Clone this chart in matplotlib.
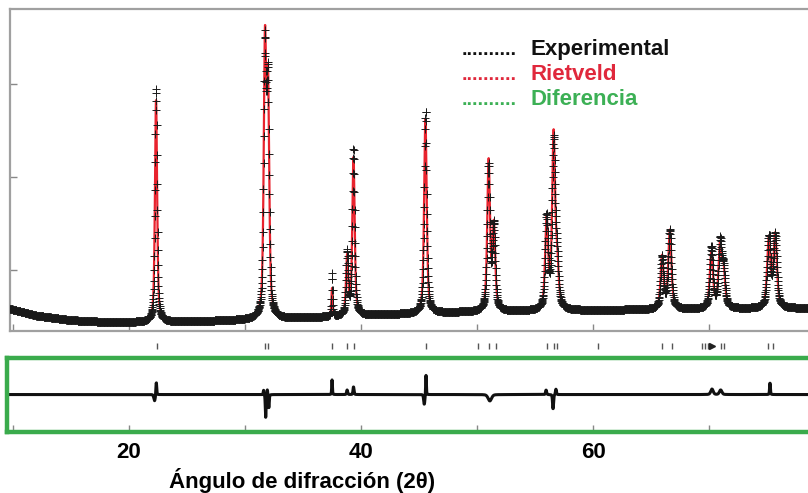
import matplotlib.pyplot as plt
import matplotlib.transforms as mtransforms
import numpy as np

plt.rcParams['font.family'] = ['Liberation Sans', 'DejaVu Sans']

# --- data (2theta in degrees, intensity in counts) ---
# background knots
bg_pos = [9.5, 12.0, 15.0, 18.0, 22.0, 28.0, 35.0, 42.0, 48.0, 55.0, 65.0, 78.6]
bg_cnt = [590, 510, 460, 440, 440, 455, 485, 520, 545, 560, 575, 590]

# reflections of the fitted (Rietveld) pattern
peak_pos = [22.33, 31.72, 31.98, 37.50, 38.80, 39.35, 45.55, 51.00, 51.45,
            56.00, 56.60, 56.90, 65.95, 66.62, 70.20, 70.95, 71.25, 75.15, 75.70]
peak_cnt = [2400, 2850, 2350, 300, 620, 1700, 2100, 1600, 900,
            950, 1850, 450, 560, 840, 600, 650, 380, 740, 780]
peak_fwhm = [0.22, 0.25, 0.25, 0.12, 0.22, 0.24, 0.26, 0.28, 0.28,
             0.30, 0.30, 0.30, 0.30, 0.32, 0.32, 0.32, 0.32, 0.34, 0.34]

# misfit (experimental - Rietveld) features
diff_pos = [22.20, 22.35, 31.60, 31.78, 31.92, 32.05, 37.50, 38.80, 39.35,
            45.45, 45.60, 51.10, 55.95, 56.55, 56.80, 70.25, 71.00, 75.25]
diff_cnt = [-70, 140, 50, -250, 60, -150, 160, 50, 85,
            -110, 215, -70, 50, -160, 60, 60, 50, 130]
diff_fwhm = [0.15, 0.08, 0.08, 0.08, 0.07, 0.08, 0.07, 0.10, 0.10,
             0.12, 0.07, 0.35, 0.10, 0.10, 0.10, 0.25, 0.25, 0.08]

# Bragg reflection markers
bragg_pos = [22.41, 31.72, 31.98, 37.50, 38.79, 39.40, 45.60, 50.09, 51.03, 51.64,
             56.03, 56.64, 56.90, 60.43, 65.95, 66.81, 69.40, 69.66, 69.91,
             71.03, 71.29, 75.09, 75.52]
bragg_strong = [70.26]

x_ticks = [10, 20, 30, 40, 50, 60, 70]
x_labels = ['', '20', '', '40', '', '60', '']
legend_items = ['Experimental', 'Rietveld', 'Diferencia']
legend_colors = ['#111111', '#e0283c', '#3cb055']


def pseudo_voigt(x, x0, h, w, eta=0.6):
    d = (x - x0) / w
    return h * (eta / (1 + 4 * d ** 2) + (1 - eta) * np.exp(-4 * np.log(2) * d ** 2))


tt = np.arange(9.5, 78.6, 0.02)
calc = np.interp(tt, bg_pos, bg_cnt)
for p, h, w in zip(peak_pos, peak_cnt, peak_fwhm):
    calc = calc + pseudo_voigt(tt, p, h, w)
diff = np.zeros_like(tt)
for p, h, w in zip(diff_pos, diff_cnt, diff_fwhm):
    diff = diff + pseudo_voigt(tt, p, h, w, eta=0.3)
obs = calc + diff

W, H = 808, 493
fig = plt.figure(figsize=(W / 100, H / 100), dpi=100)

# main panel
ax = fig.add_axes([10 / W, 162 / H, 800 / W, 322 / H])
ax.plot(tt, calc, color='#e8232e', lw=1.6, zorder=2)
ax.plot(tt, obs, ls='none', marker='+', ms=5.5, mew=0.7, color='#1a1a1a', zorder=3)
ax.set_xlim(9.74, 78.7)
ax.set_ylim(344, 3806)
ax.set_xticks(x_ticks)
ax.set_xticklabels([])
ax.set_yticks([1000, 2000, 3000])
ax.set_yticklabels([])
ax.tick_params(direction='in', length=5, width=1, color='#888888')
for s in ['top', 'left', 'bottom']:
    ax.spines[s].set_color('#a0a0a0')
    ax.spines[s].set_linewidth(1.6)
ax.spines['right'].set_visible(False)

# Bragg markers between the panels
trans = mtransforms.blended_transform_factory(ax.transData, ax.transAxes)
ax.plot(bragg_pos, [-0.047] * len(bragg_pos), ls='none', marker='|', ms=5, mew=1.0,
        color='#555555', transform=trans, clip_on=False)
ax.plot(bragg_strong, [-0.047] * len(bragg_strong), ls='none', marker='>', ms=4,
        color='#222222', transform=trans, clip_on=False)

# difference panel
ax2 = fig.add_axes([7 / W, 61 / H, 803 / W, 74 / H])
ax2.plot(tt, diff, color='#111111', lw=2.2)
ax2.set_xlim(9.48, 78.7)
ax2.set_ylim(-410, 400)
ax2.set_yticks([])
ax2.set_xticks(x_ticks)
ax2.set_xticklabels(x_labels, fontsize=16, fontweight='bold')
ax2.tick_params(axis='x', direction='in', length=5, width=1, color='#888888', pad=7)
for s in ['top', 'left', 'bottom']:
    ax2.spines[s].set_color('#3aab4c')
    ax2.spines[s].set_linewidth(3.2)
ax2.spines['right'].set_visible(False)

fig.text(302 / W, (H - 488) / H, 'Ángulo de difracción (2θ)', ha='center', va='baseline',
         fontsize=16, fontweight='bold')

# legend written as text rows
for i, (lab, col) in enumerate(zip(legend_items, legend_colors)):
    yb = (H - 55 - 25 * i) / H
    fig.text(462 / W, yb, '..........', color=col, fontsize=14, fontweight='bold', va='baseline')
    fig.text(531 / W, yb, lab, color=col, fontsize=16, fontweight='bold', va='baseline')

fig.savefig('out.png', dpi=100)
